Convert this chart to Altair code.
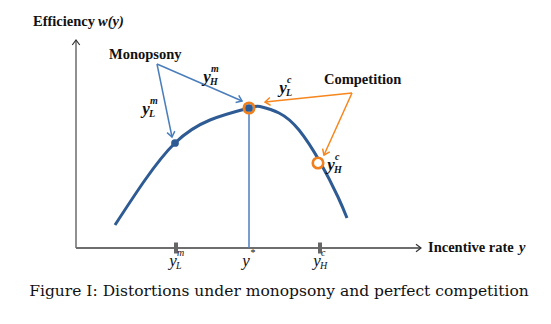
import math
import altair as alt
import pandas as pd

W, H = 551, 324

# Diagram coordinates (canvas units, y measured from the top)
curve_x = [115, 145, 175, 210, 249, 260, 279, 299, 320, 338, 347]
curve_y = [225, 180, 143, 120, 108, 106.5, 113, 130, 162, 197, 218]

# axes: (x1, y1, x2, y2)
axes_seg = [(76, 248, 76, 40), (76, 248, 421, 248)]
# arrows: origin -> tip
mono_arrows = [(157, 64, 172, 137), (157, 64, 242, 101)]
comp_arrows = [(352, 93, 265, 102), (352, 93, 324, 155)]

ystar_line = (249, 108, 249, 248)
tick_x = [176, 320]
tick_y = 248

points_x = [175, 249, 318]
points_y = [143, 108, 163]

# labels y with sub/superscripts: (x, y, sup, sub, group)
labels = [
    (207, 77, "m", "H", "top"),
    (146, 109, "m", "L", "top"),
    (283, 88, "c", "L", "top"),
    (331, 165, "c", "H", "top"),
    (173, 261, "m", "L", "bottom"),
    (246, 261, "*", "", "bottom"),
    (317, 261, "c", "H", "bottom"),
]

xs = alt.Scale(domain=[0, W], range=[0, W])
ys = alt.Scale(domain=[0, H], range=[0, H])


def X(f):
    return alt.X(f, type="quantitative", scale=xs, axis=None)


def Y(f):
    return alt.Y(f, type="quantitative", scale=ys, axis=None)


def seg_df(segs):
    return pd.DataFrame(segs, columns=["x1", "y1", "x2", "y2"])


def head_df(segs):
    rows = []
    for x1, y1, x2, y2 in segs:
        ang = math.degrees(math.atan2(y2 - y1, x2 - x1)) % 360
        rows.append({"x": x2, "y": y2, "angle": ang})
    return pd.DataFrame(rows)


ARROW = "M-1,-0.75L0,0L-1,0.75"


def seg_layer(segs, color, width):
    return alt.Chart(seg_df(segs)).mark_rule(color=color, strokeWidth=width).encode(
        x=X("x1"), y=Y("y1"), x2="x2", y2="y2")


def head_layer(segs, color, width, size):
    return alt.Chart(head_df(segs)).mark_point(
        shape=ARROW, filled=False, stroke=color, strokeWidth=width, size=size, opacity=1
    ).encode(x=X("x"), y=Y("y"), angle=alt.Angle("angle:Q", scale=None))


curve_df = pd.DataFrame({"x": curve_x, "y": curve_y})
curve = alt.Chart(curve_df).mark_line(color="#2E5B93", strokeWidth=3, interpolate="natural").encode(
    x=X("x"), y=Y("y"))

axes = seg_layer(axes_seg[:1], "#555555", 1.3) + seg_layer(axes_seg[1:], "#6E6E6E", 2.2)
axes_heads = head_layer(axes_seg, "#333333", 1.2, 100)

ystar = seg_layer([ystar_line], "#4A7EBB", 1.5)
ticks_df = pd.DataFrame({"x": tick_x, "y": [tick_y] * len(tick_x)})
ticks = alt.Chart(ticks_df).mark_tick(color="#666666", thickness=4, size=11, orient="vertical",
                                      opacity=1).encode(x=X("x"), y=Y("y"))

mono = seg_layer(mono_arrows, "#4A7EBB", 1.5) + head_layer(mono_arrows, "#4A7EBB", 1.5, 110)
comp = seg_layer(comp_arrows, "#F7861C", 1.5) + head_layer(comp_arrows, "#F7861C", 1.5, 110)

pts = pd.DataFrame({"x": points_x, "y": points_y, "kind": ["blue", "both", "orange"]})
p_orange = alt.Chart(pts[pts.kind != "blue"]).mark_point(
    shape="circle", filled=True, fill="white", stroke="#F07F1E", strokeWidth=2.6, size=110, opacity=1
).encode(x=X("x"), y=Y("y"))
p_blue = alt.Chart(pts[pts.kind != "orange"]).mark_point(
    shape="circle", filled=True, color="#2E5B93", size=60, opacity=1
).encode(x=X("x"), y=Y("y"))

lab_df = pd.DataFrame(labels, columns=["x", "y", "sup", "sub", "group"])
lab_df["base"] = "y"
SERIF = "Liberation Serif"
top = lab_df[lab_df.group == "top"]
bot = lab_df[lab_df.group == "bottom"]


def lab_layers(df, weight):
    base = alt.Chart(df).mark_text(font=SERIF, fontSize=17, fontStyle="italic", fontWeight=weight,
                                   color="#111111", align="center", baseline="middle").encode(
        x=X("x"), y=Y("y"), text="base:N")
    sup = alt.Chart(df).mark_text(font=SERIF, fontSize=10, fontStyle="italic", fontWeight=weight,
                                  color="#111111", align="left", baseline="middle", dx=4, dy=-8).encode(
        x=X("x"), y=Y("y"), text="sup:N")
    sub = alt.Chart(df).mark_text(font=SERIF, fontSize=10, fontStyle="italic", fontWeight=weight,
                                  color="#111111", align="left", baseline="middle", dx=3, dy=5).encode(
        x=X("x"), y=Y("y"), text="sub:N")
    return base + sup + sub


# plain text annotations: (x, y, text, style)
texts = [
    (33, 22, "Efficiency", "bold"),
    (98, 22, "w(y)", "bolditalic"),
    (109, 55, "Monopsony", "bold"),
    (324, 80, "Competition", "bold"),
    (428, 248, "Incentive rate", "bold"),
    (519, 248, "y", "bolditalic"),
]
tdf = pd.DataFrame(texts, columns=["x", "y", "text", "style"])


def text_layer(df, style, size):
    return alt.Chart(df[df["style"] == style]).mark_text(
        font=SERIF, fontSize=size, fontWeight="bold",
        fontStyle="italic" if "italic" in style else "normal",
        color="#111111", align="left", baseline="middle").encode(x=X("x"), y=Y("y"), text="text:N")


caption = [(279, 291, "Figure I: Distortions under monopsony and perfect competition")]
cdf = pd.DataFrame(caption, columns=["x", "y", "text"])
cap = alt.Chart(cdf).mark_text(font="DejaVu Serif", fontSize=15.5, color="#111111",
                               align="center", baseline="middle").encode(
    x=X("x"), y=Y("y"), text="text:N")

chart = alt.layer(
    axes, axes_heads, ticks, ystar, curve, mono, comp, p_orange, p_blue,
    lab_layers(top, "bold"), lab_layers(bot, "normal"),
    text_layer(tdf, "bold", 14.5), text_layer(tdf, "bolditalic", 14.5), cap,
).properties(width=W, height=H, padding=0, autosize=alt.AutoSizeParams(type="none"),
             background="white").configure_view(stroke=None)

chart.save("out.html", embed_options={"renderer": "svg", "actions": False})
